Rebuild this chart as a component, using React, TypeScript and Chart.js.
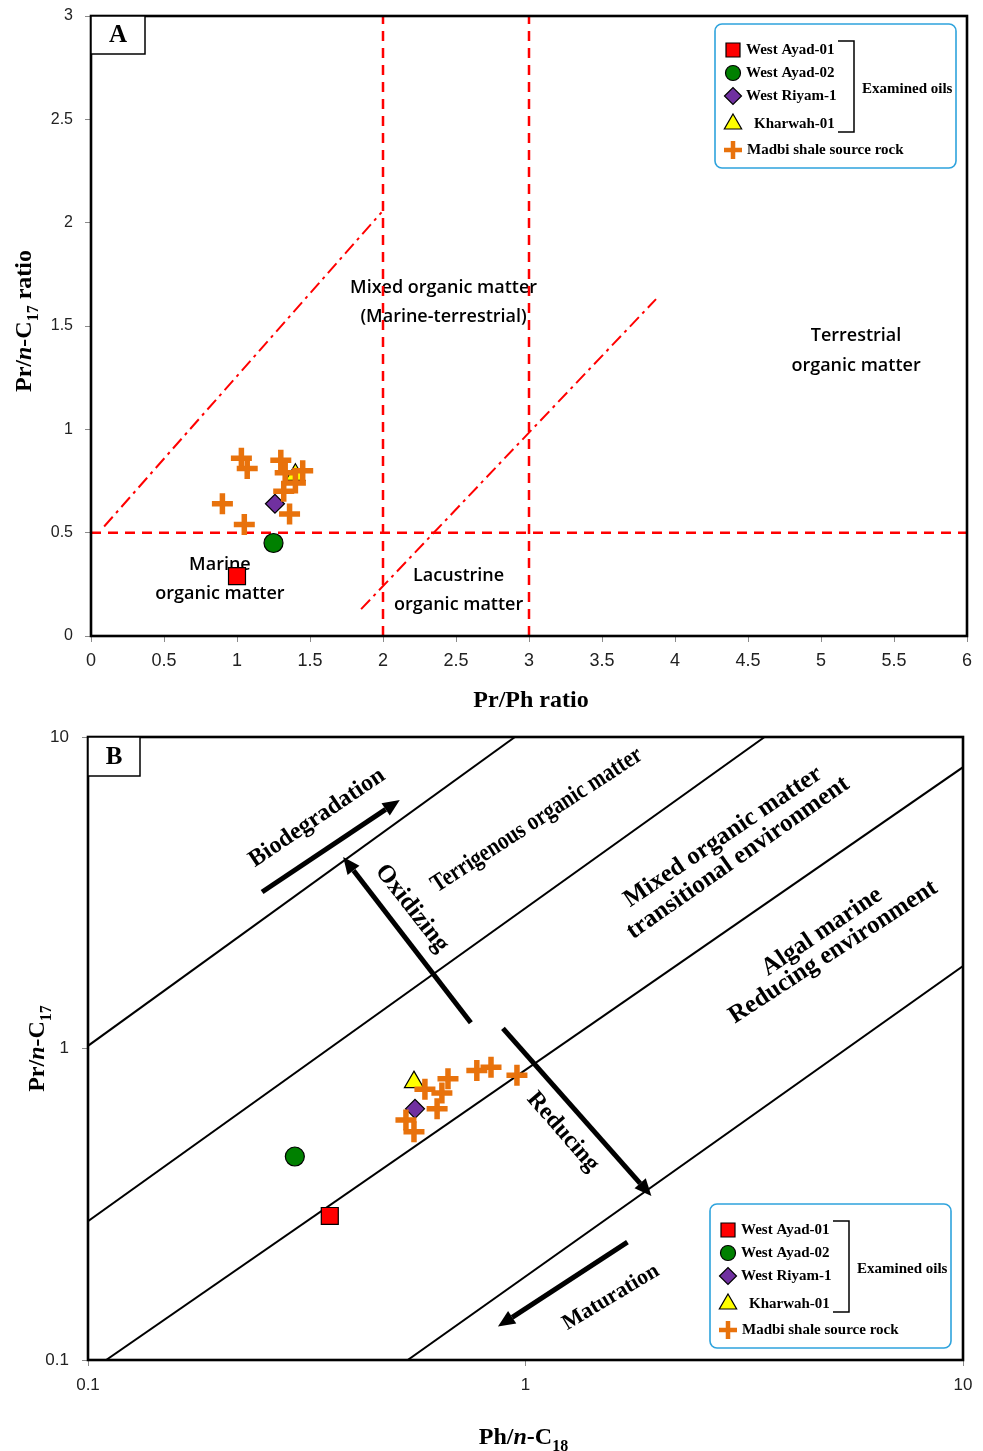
import React, { useEffect, useRef } from "react";
import { Chart, registerables } from "chart.js";

Chart.register(...registerables);

// ---------- Data ----------
const oilNames = ["West Ayad-01", "West Ayad-02", "West Riyam-1", "Kharwah-01"];
const oilPrPh = [1.0, 1.25, 1.26, 1.4];
const oilPrC17 = [0.29, 0.45, 0.64, 0.78];
const oilPhC18 = [0.357, 0.297, 0.559, 0.556];

const rockName = "Madbi shale source rock";
const rockPrPhA = [1.03, 1.07, 1.3, 1.33, 1.45, 1.4, 1.32, 0.9, 1.36, 1.05];
const rockPrC17A = [0.86, 0.81, 0.85, 0.79, 0.8, 0.74, 0.7, 0.64, 0.59, 0.54];
const rockPhC18B = [0.589, 0.665, 0.644, 0.628, 0.533, 0.556, 0.774, 0.834, 0.956];
const rockPrC17B = [0.74, 0.8, 0.72, 0.64, 0.59, 0.54, 0.85, 0.87, 0.82];

// Panel A axis ticks
const prPhTicks = [0, 0.5, 1, 1.5, 2, 2.5, 3, 3.5, 4, 4.5, 5, 5.5, 6];
const prC17TicksA = [0, 0.5, 1, 1.5, 2, 2.5, 3];
// Panel B decade ticks
const logTicks = [0.1, 1, 10];

// Panel A field boundaries
const prPhCutoffs = [2, 3];
const prC17Cutoff = 0.5;
const mixedBoundary = [
  [0.09, 0.53],
  [1.99, 2.05],
];
const lacustrineBoundary = [
  [1.85, 0.13],
  [3.87, 1.63],
];

// Panel B field boundaries (Ph/n-C18, Pr/n-C17)
const boundariesB = [
  [
    [0.1, 1.02],
    [0.946, 10],
  ],
  [
    [0.1, 0.279],
    [3.52, 10],
  ],
  [
    [0.11, 0.1],
    [10, 8.0],
  ],
  [
    [0.538, 0.1],
    [10, 1.84],
  ],
];

// Panel B trend arrows
const trendArrows = [
  { from: [0.25, 3.18], to: [0.516, 6.28] }, // biodegradation
  { from: [0.75, 1.21], to: [0.383, 4.12] }, // oxidizing
  { from: [0.888, 1.16], to: [1.94, 0.336] }, // reducing
  { from: [1.71, 0.239], to: [0.865, 0.128] }, // maturation
];

// Field labels
const fieldLabelsA = [
  { text: "Mixed organic matter", at: [2.415, 1.683] },
  { text: "(Marine-terrestrial)", at: [2.415, 1.543] },
  { text: "Terrestrial", at: [5.24, 1.452] },
  { text: "organic matter", at: [5.24, 1.307] },
  { text: "Marine", at: [0.883, 0.342] },
  { text: "organic matter", at: [0.883, 0.203] },
  { text: "Lacustrine", at: [2.518, 0.289] },
  { text: "organic matter", at: [2.518, 0.15] },
];

const fieldLabelsB = [
  { text: "Biodegradation", at: [0.334, 5.5], angle: -34, size: 24, sx: 1 },
  { text: "Terrigenous organic matter", at: [1.062, 5.41], angle: -33, size: 25, sx: 0.84 },
  { text: "Oxidizing", at: [0.55, 2.82], angle: 52, size: 25, sx: 1 },
  { text: "Mixed organic matter", at: [2.83, 4.78], angle: -34, size: 25, sx: 1 },
  { text: "transitional environment", at: [3.06, 4.09], angle: -35, size: 25, sx: 1 },
  { text: "Algal marine", at: [4.76, 2.37], angle: -34, size: 25, sx: 1 },
  { text: "Reducing environment", at: [5.05, 2.04], angle: -33, size: 25, sx: 1 },
  { text: "Reducing", at: [1.218, 0.54], angle: 49, size: 24, sx: 1 },
  { text: "Maturation", at: [1.568, 0.159], angle: -31, size: 22, sx: 1 },
];

// ---------- Styles ----------
const SERIF = '"Liberation Serif", "Times New Roman", serif';
const SANS = '"Open Sans", "Noto Sans", sans-serif';
const TICK = '"Liberation Sans Narrow", "Liberation Sans", Arial, sans-serif';
const oilFill = ["#ff0000", "#008000", "#7030a0", "#ffff00"];
const oilShape = ["rect", "circle", "rectRot", "triangle"];
const oilRadius = [12, 9.5, 9.5, 11];
const rockColor = "#e8720c";
const legendBlue = "#2ea3dd";

type Part = { t: string; italic?: boolean; sub?: boolean };

function drawRich(
  ctx: CanvasRenderingContext2D,
  parts: Part[],
  x: number,
  y: number,
  size: number,
  rotate = 0
) {
  const fontFor = (p: Part) =>
    `${p.italic ? "italic " : ""}bold ${p.sub ? Math.round(size * 0.68) : size}px ${SERIF}`;
  ctx.save();
  ctx.translate(x, y);
  if (rotate) ctx.rotate(rotate);
  let total = 0;
  for (const p of parts) {
    ctx.font = fontFor(p);
    total += ctx.measureText(p.t).width;
  }
  let cx = -total / 2;
  ctx.textAlign = "left";
  ctx.textBaseline = "alphabetic";
  ctx.fillStyle = "#000";
  for (const p of parts) {
    ctx.font = fontFor(p);
    ctx.fillText(p.t, cx, p.sub ? size * 0.28 : 0);
    cx += ctx.measureText(p.t).width;
  }
  ctx.restore();
}

function drawMarker(
  ctx: CanvasRenderingContext2D,
  shape: string,
  x: number,
  y: number,
  r: number,
  fill: string
) {
  ctx.save();
  ctx.fillStyle = fill;
  ctx.strokeStyle = "#000";
  ctx.lineWidth = 1.2;
  ctx.beginPath();
  if (shape === "rect") {
    ctx.rect(x - r, y - r, 2 * r, 2 * r);
  } else if (shape === "circle") {
    ctx.arc(x, y, r, 0, Math.PI * 2);
  } else if (shape === "rectRot") {
    ctx.moveTo(x - r, y);
    ctx.lineTo(x, y - r);
    ctx.lineTo(x + r, y);
    ctx.lineTo(x, y + r);
    ctx.closePath();
  } else if (shape === "triangle") {
    ctx.moveTo(x, y - r);
    ctx.lineTo(x + r * 0.866, y + r * 0.5);
    ctx.lineTo(x - r * 0.866, y + r * 0.5);
    ctx.closePath();
  }
  ctx.fill();
  ctx.stroke();
  ctx.restore();
}

function drawCross(ctx: CanvasRenderingContext2D, x: number, y: number, r: number, w: number) {
  ctx.save();
  ctx.strokeStyle = rockColor;
  ctx.lineWidth = w;
  ctx.beginPath();
  ctx.moveTo(x - r, y);
  ctx.lineTo(x + r, y);
  ctx.moveTo(x, y - r);
  ctx.lineTo(x, y + r);
  ctx.stroke();
  ctx.restore();
}

function drawLegend(ctx: CanvasRenderingContext2D, left: number, top: number) {
  const w = 241;
  const h = 144;
  ctx.save();
  ctx.fillStyle = "#fff";
  ctx.strokeStyle = legendBlue;
  ctx.lineWidth = 1.6;
  ctx.beginPath();
  (ctx as any).roundRect(left, top, w, h, 7);
  ctx.fill();
  ctx.stroke();

  const rows = [26, 49, 72, 100, 126];
  const mx = left + 18;
  const legendR = [7, 7.5, 8.5, 10];
  const font = `bold 15px ${SERIF}`;
  oilNames.forEach((name, i) => {
    drawMarker(ctx, oilShape[i], mx, top + rows[i], legendR[i], oilFill[i]);
    ctx.fillStyle = "#000";
    ctx.font = font;
    ctx.textAlign = "left";
    ctx.textBaseline = "middle";
    ctx.fillText(name, left + (i === 3 ? 39 : 31), top + rows[i]);
  });
  drawCross(ctx, mx, top + rows[4], 9, 4.5);
  ctx.fillStyle = "#000";
  ctx.font = font;
  ctx.textBaseline = "middle";
  ctx.fillText(rockName, left + 32, top + rows[4]);

  // bracket grouping the examined oils
  ctx.strokeStyle = "#000";
  ctx.lineWidth = 1.5;
  ctx.beginPath();
  ctx.moveTo(left + 123, top + 17);
  ctx.lineTo(left + 139, top + 17);
  ctx.lineTo(left + 139, top + 108);
  ctx.lineTo(left + 123, top + 108);
  ctx.stroke();
  ctx.fillText("Examined oils", left + 147, top + 65);
  ctx.restore();
}

function drawPanelLetter(ctx: CanvasRenderingContext2D, left: number, top: number, w: number, h: number, letter: string) {
  ctx.save();
  ctx.fillStyle = "#fff";
  ctx.fillRect(left, top, w, h);
  ctx.strokeStyle = "#000";
  ctx.lineWidth = 1.5;
  ctx.strokeRect(left, top, w, h);
  ctx.fillStyle = "#000";
  ctx.font = `bold 25px ${SERIF}`;
  ctx.textAlign = "center";
  ctx.textBaseline = "middle";
  ctx.fillText(letter, left + w / 2, top + h / 2 + 1);
  ctx.restore();
}

function drawFrame(chart: any) {
  const { ctx, chartArea: a } = chart;
  ctx.save();
  ctx.strokeStyle = "#000";
  ctx.lineWidth = 2.6;
  ctx.strokeRect(a.left, a.top, a.right - a.left, a.bottom - a.top);
  ctx.restore();
}

function drawArrow(ctx: CanvasRenderingContext2D, x1: number, y1: number, x2: number, y2: number) {
  const ang = Math.atan2(y2 - y1, x2 - x1);
  const head = 17;
  const half = 7.5;
  const bx = x2 - Math.cos(ang) * head;
  const by = y2 - Math.sin(ang) * head;
  ctx.save();
  ctx.strokeStyle = "#000";
  ctx.fillStyle = "#000";
  ctx.lineWidth = 5;
  ctx.beginPath();
  ctx.moveTo(x1, y1);
  ctx.lineTo(bx, by);
  ctx.stroke();
  ctx.beginPath();
  ctx.moveTo(x2, y2);
  ctx.lineTo(bx + Math.sin(ang) * half, by - Math.cos(ang) * half);
  ctx.lineTo(bx - Math.sin(ang) * half, by + Math.cos(ang) * half);
  ctx.closePath();
  ctx.fill();
  ctx.restore();
}

const pair = (xs: number[], ys: number[]) => xs.map((x, i) => ({ x, y: ys[i] }));

const lineDs = (pts: number[][], color: string, width: number, dash: number[]) => ({
  type: "scatter" as const,
  data: pts.map(([x, y]) => ({ x, y })),
  showLine: true,
  borderColor: color,
  borderWidth: width,
  borderDash: dash,
  pointRadius: 0,
  order: 3,
});

const oilDatasets = (xs: number[]) =>
  oilNames.map((name, i) => ({
    label: name,
    data: [{ x: xs[i], y: oilPrC17[i] }],
    pointStyle: oilShape[i],
    pointRadius: oilRadius[i],
    backgroundColor: oilFill[i],
    borderColor: "#000",
    borderWidth: 1.2,
    order: 1,
  }));

const rockDataset = (xs: number[], ys: number[]) => ({
  label: rockName,
  data: pair(xs, ys),
  pointStyle: "cross",
  pointRadius: 10.5,
  borderColor: rockColor,
  backgroundColor: rockColor,
  borderWidth: 5.5,
  order: 0,
});

const tickGrid = {
  drawOnChartArea: false,
  drawTicks: true,
  tickLength: 6,
  color: "#8a8a8a",
  lineWidth: 1,
};

// Fix an axis' thickness and drop the label overflow padding so the
// plot area is set by layout.padding alone.
const fixAxis = (size: number, horizontal: boolean) => (s: any) => {
  if (horizontal) s.height = size;
  else s.width = size;
  s.paddingTop = 0;
  s.paddingBottom = 0;
  s.paddingLeft = 0;
  s.paddingRight = 0;
};

function configA(): any {
  const red = "#ff0000";
  const datasets: any[] = [
    lineDs(
      [
        [0, prC17Cutoff],
        [6, prC17Cutoff],
      ],
      red,
      2.5,
      [10, 7]
    ),
    ...prPhCutoffs.map((c) =>
      lineDs(
        [
          [c, 0],
          [c, 3],
        ],
        red,
        2.5,
        [10, 7]
      )
    ),
    lineDs(mixedBoundary, red, 2, [13, 5, 3, 5]),
    lineDs(lacustrineBoundary, red, 2, [13, 5, 3, 5]),
    ...oilDatasets(oilPrPh),
    rockDataset(rockPrPhA, rockPrC17A),
  ];

  const plugin = {
    id: "panelA",
    beforeDatasetsDraw(chart: any) {
      const { ctx, scales } = chart;
      ctx.save();
      ctx.fillStyle = "#000";
      ctx.font = `600 18px ${SANS}`;
      ctx.textAlign = "center";
      ctx.textBaseline = "middle";
      for (const l of fieldLabelsA) {
        ctx.fillText(l.text, scales.x.getPixelForValue(l.at[0]), scales.y.getPixelForValue(l.at[1]));
      }
      ctx.restore();
    },
    afterDraw(chart: any) {
      const { ctx, chartArea: a } = chart;
      drawFrame(chart);
      drawPanelLetter(ctx, a.left, a.top, 54, 38, "A");
      drawLegend(ctx, a.right - 252, a.top + 8);
      drawRich(ctx, [{ t: "Pr/Ph ratio" }], (a.left + a.right) / 2 + 2, a.bottom + 71, 24);
      drawRich(
        ctx,
        [{ t: "Pr/" }, { t: "n", italic: true }, { t: "-C" }, { t: "17", sub: true }, { t: " ratio" }],
        31,
        (a.top + a.bottom) / 2 - 5,
        24,
        -Math.PI / 2
      );
    },
  };

  return {
    type: "scatter",
    data: { datasets },
    options: {
      animation: false,
      responsive: false,
      devicePixelRatio: 1,
      layout: { padding: { left: 0, right: 15, top: 14, bottom: 0 } },
      plugins: { legend: { display: false }, tooltip: { enabled: false } },
      scales: {
        x: {
          type: "linear",
          min: 0,
          max: 6,
          afterFit: fixAxis(84, true),
          afterBuildTicks: (s: any) => {
            s.ticks = prPhTicks.map((v) => ({ value: v }));
          },
          grid: tickGrid,
          border: { display: false },
          ticks: {
            padding: 8,
            color: "#222",
            font: { family: TICK, size: 18 },
            callback: (v: number) => String(v),
          },
        },
        y: {
          type: "linear",
          min: 0,
          max: 3,
          afterFit: fixAxis(91, false),
          afterBuildTicks: (s: any) => {
            s.ticks = prC17TicksA.map((v) => ({ value: v }));
          },
          grid: tickGrid,
          border: { display: false },
          ticks: {
            padding: 12,
            color: "#222",
            font: { family: '"Liberation Sans", Arial, sans-serif', size: 16 },
            callback: (v: number) => String(v),
          },
        },
      },
    },
    plugins: [plugin],
  };
}

function configB(): any {
  const datasets: any[] = [
    ...boundariesB.map((seg) => lineDs(seg, "#000", 2, [])),
    ...oilDatasets(oilPhC18),
    rockDataset(rockPhC18B, rockPrC17B),
  ];

  const plugin = {
    id: "panelB",
    afterDraw(chart: any) {
      const { ctx, chartArea: a, scales } = chart;
      const px = (v: number) => scales.x.getPixelForValue(v);
      const py = (v: number) => scales.y.getPixelForValue(v);
      for (const ar of trendArrows) {
        drawArrow(ctx, px(ar.from[0]), py(ar.from[1]), px(ar.to[0]), py(ar.to[1]));
      }
      ctx.save();
      ctx.fillStyle = "#000";
      ctx.textAlign = "center";
      ctx.textBaseline = "middle";
      for (const l of fieldLabelsB) {
        ctx.save();
        ctx.font = `bold ${l.size}px ${SERIF}`;
        ctx.translate(px(l.at[0]), py(l.at[1]));
        ctx.rotate((l.angle * Math.PI) / 180);
        ctx.scale(l.sx, 1);
        ctx.fillText(l.text, 0, 0);
        ctx.restore();
      }
      ctx.restore();
      drawFrame(chart);
      drawPanelLetter(ctx, a.left, a.top, 52, 39, "B");
      drawLegend(ctx, a.right - 253, a.bottom - 156);
      drawRich(
        ctx,
        [{ t: "Ph/" }, { t: "n", italic: true }, { t: "-C" }, { t: "18", sub: true }],
        (a.left + a.right) / 2 - 2,
        a.bottom + 84,
        24
      );
      drawRich(
        ctx,
        [{ t: "Pr/" }, { t: "n", italic: true }, { t: "-C" }, { t: "17", sub: true }],
        44,
        (a.top + a.bottom) / 2,
        24,
        -Math.PI / 2
      );
    },
  };

  const logAxis = (which: "x" | "y") => ({
    type: "logarithmic",
    min: 0.1,
    max: 10,
    afterFit: which === "x" ? fixAxis(91, true) : fixAxis(88, false),
    afterBuildTicks: (s: any) => {
      s.ticks = logTicks.map((v) => ({ value: v }));
    },
    grid: tickGrid,
    border: { display: false },
    ticks: {
      padding: which === "x" ? 9 : 13,
      color: "#222",
      font: { family: TICK, size: 17 },
      callback: (v: number) => String(v),
    },
  });

  return {
    type: "scatter",
    data: { datasets },
    options: {
      animation: false,
      responsive: false,
      devicePixelRatio: 1,
      layout: { padding: { left: 0, right: 20, top: 17, bottom: 0 } },
      plugins: { legend: { display: false }, tooltip: { enabled: false } },
      scales: { x: logAxis("x"), y: logAxis("y") },
    },
    plugins: [plugin],
  };
}

export default function App() {
  const refA = useRef<HTMLCanvasElement>(null);
  const refB = useRef<HTMLCanvasElement>(null);

  useEffect(() => {
    const a = new Chart(refA.current as HTMLCanvasElement, configA());
    const b = new Chart(refB.current as HTMLCanvasElement, configB());
    return () => {
      a.destroy();
      b.destroy();
    };
  }, []);

  return (
    <div style={{ position: "absolute", left: 0, top: 0, width: 983, height: 1451, background: "#fff" }}>
      <canvas
        ref={refA}
        width={983}
        height={720}
        style={{ position: "absolute", left: 0, top: 0, width: 983, height: 720 }}
      />
      <canvas
        ref={refB}
        width={983}
        height={731}
        style={{ position: "absolute", left: 0, top: 720, width: 983, height: 731 }}
      />
    </div>
  );
}
